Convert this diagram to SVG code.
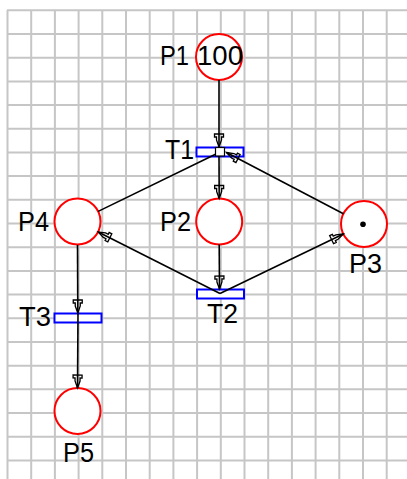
<svg xmlns="http://www.w3.org/2000/svg" width="407" height="479" viewBox="0 0 407 479">
  <style>
    .grid { stroke: #c6c6c6; stroke-width: 2; fill: none; }
    .place { fill: #ffffff; stroke: #ff0000; stroke-width: 2; }
    .trans { fill: #ffffff; stroke: #0000ff; stroke-width: 2; }
    .lbl { font-family: "Liberation Sans", Arial, sans-serif; font-size: 27px; fill: #000000; }
    .arc { fill: none; stroke: #000000; stroke-width: 1.6; }
    .arc.head { marker-end: url(#arr); }
    .token { fill: #000000; }
  </style>
  <defs>
    <marker id="arr" markerUnits="userSpaceOnUse" orient="auto" overflow="visible"
            markerWidth="14" markerHeight="10" refX="0" refY="0" viewBox="-13 -5 14 10">
      <path d="M0,0 L-7,-2.5 L-10,-2.5 L-10,-4.5 L-13,-4.5 L-13,4.5 L-10,4.5 L-10,2.5 L-7,2.5 Z"
            fill="none" stroke="#000000" stroke-width="1.3" stroke-linejoin="miter"/>
    </marker>
  </defs>

  <rect width="407" height="479" fill="#ffffff"/>

  <!-- background grid -->
  <g id="grid" class="grid">
    <path d="M7.5,10 V479 M31.2,10 V479 M54.9,10 V479 M78.6,10 V479 M102.3,10 V479 M126,10 V479
             M149.7,10 V479 M173.4,10 V479 M197.1,10 V479 M220.8,10 V479 M244.5,10 V479 M268.2,10 V479
             M291.9,10 V479 M315.6,10 V479 M339.3,10 V479 M363,10 V479 M386.7,10 V479"/>
    <path d="M7,10.3 H407 M7,34 H407 M7,57.7 H407 M7,81.4 H407 M7,105.1 H407 M7,128.8 H407
             M7,152.4 H407 M7,176.1 H407 M7,199.8 H407 M7,223.5 H407 M7,247.2 H407 M7,270.9 H407
             M7,294.6 H407 M7,318.3 H407 M7,342 H407 M7,365.7 H407 M7,389.3 H407 M7,413 H407
             M7,436.7 H407 M7,460.4 H407"/>
  </g>

  <!-- places -->
  <g id="P1">
    <circle class="place" cx="219" cy="57" r="23"/>
    <text class="lbl" x="160" y="65" textLength="29" lengthAdjust="spacingAndGlyphs">P1</text>
    <text class="lbl" x="197" y="65" textLength="46" lengthAdjust="spacingAndGlyphs">100</text>
  </g>
  <g id="P2">
    <circle class="place" cx="219.2" cy="221.5" r="23"/>
    <text class="lbl" x="160" y="231" textLength="31" lengthAdjust="spacingAndGlyphs">P2</text>
  </g>
  <g id="P3">
    <circle class="place" cx="364" cy="224" r="23"/>
    <circle class="token" cx="363" cy="224.3" r="2.8"/>
    <text class="lbl" x="349" y="273" textLength="33" lengthAdjust="spacingAndGlyphs">P3</text>
  </g>
  <g id="P4">
    <circle class="place" cx="77.5" cy="221.5" r="23"/>
    <text class="lbl" x="18" y="231" textLength="31" lengthAdjust="spacingAndGlyphs">P4</text>
  </g>
  <g id="P5">
    <circle class="place" cx="77.5" cy="411" r="23"/>
    <text class="lbl" x="63" y="462" textLength="31" lengthAdjust="spacingAndGlyphs">P5</text>
  </g>

  <!-- transitions -->
  <g id="T1">
    <rect class="trans" x="196.5" y="147.5" width="47" height="9"/>
    <text class="lbl" x="165" y="159" textLength="29" lengthAdjust="spacingAndGlyphs">T1</text>
  </g>
  <g id="T2">
    <rect class="trans" x="197" y="289.5" width="47" height="9"/>
    <text class="lbl" x="207" y="323" textLength="31" lengthAdjust="spacingAndGlyphs">T2</text>
  </g>
  <g id="T3">
    <rect class="trans" x="54.5" y="313.5" width="47" height="9"/>
    <text class="lbl" x="19" y="326" textLength="32" lengthAdjust="spacingAndGlyphs">T3</text>
  </g>

  <!-- arcs -->
  <g id="arcs">
    <path class="arc head" d="M219,80 L219,147"/>
    <path class="arc head" d="M219,156 L219.2,198.5"/>
    <path class="arc head" d="M343.4,213.7 L226.5,152.5"/>
    <path class="arc" d="M98.2,211.4 L215.5,154.3"/>
    <rect x="215.5" y="147.5" width="9" height="8.5" fill="#ffffff" stroke="#000000" stroke-width="1.2"/>
    <path class="arc head" d="M219.2,244.5 L219.5,289"/>
    <path class="arc head" d="M220,293.5 L98.2,232"/>
    <path class="arc head" d="M220,293.5 L343.3,234"/>
    <path class="arc head" d="M77.5,245 L77.8,313"/>
    <path class="arc head" d="M78,313 L77.5,388"/>
  </g>
</svg>
